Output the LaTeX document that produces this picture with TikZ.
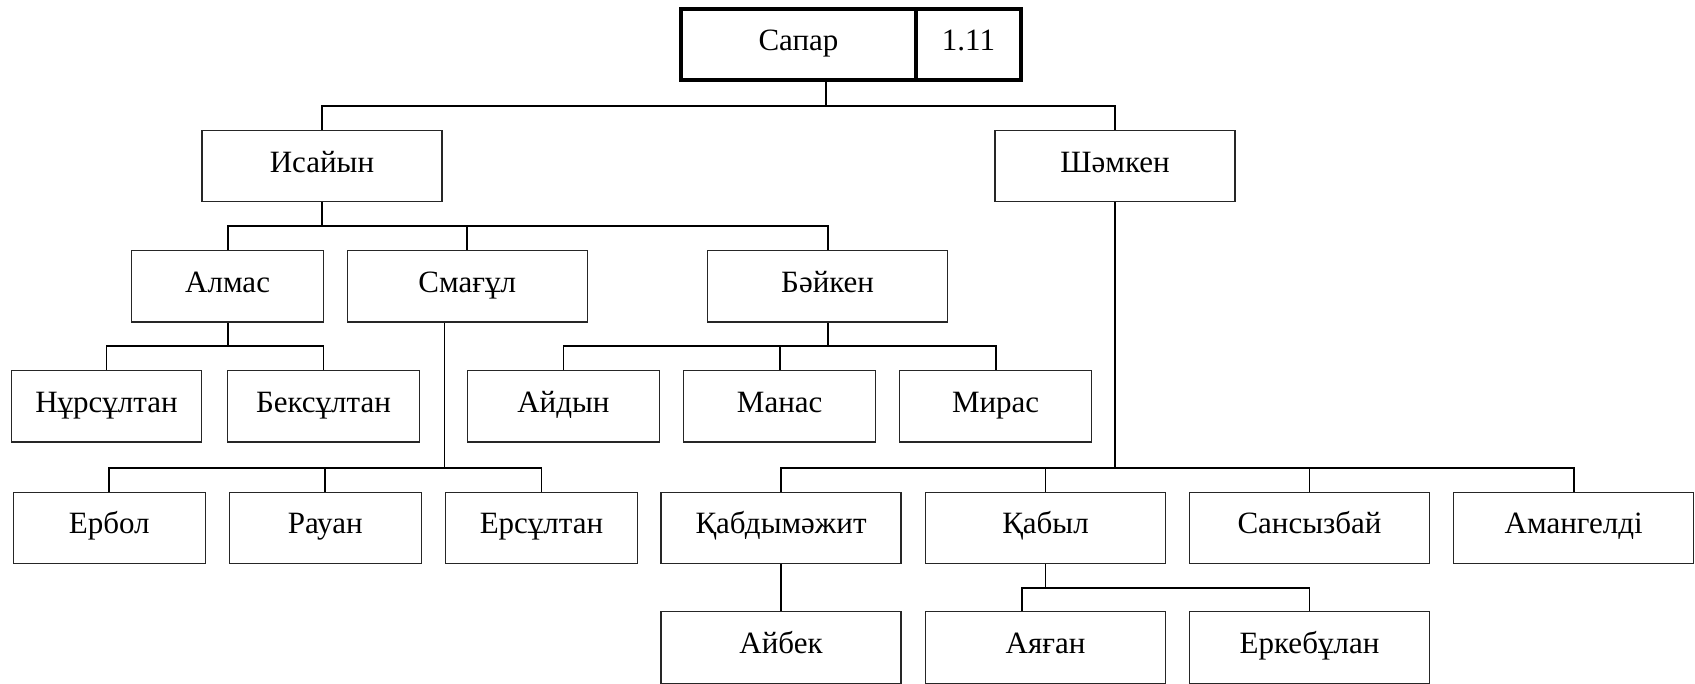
\documentclass[tikz,border=0pt]{standalone}
\usepackage{fontspec}
\setmainfont{Liberation Serif}
\begin{document}
\begin{tikzpicture}[x=1pt,y=-1pt,
  box/.style={draw=black!85,line width=1.3pt,rectangle,minimum height=71.5pt,inner sep=0pt,
    text height=22pt,text depth=10pt,font=\fontsize{31}{36}\selectfont},
  wbox/.style={box,minimum width=240pt},
  nbox/.style={box,minimum width=192pt},
  topbox/.style={box,line width=4pt,draw=black,minimum height=71pt},
  conn/.style={line width=1.8pt,black}]
\useasboundingbox (0,0) rectangle (1695,683);
\clip (0,0) rectangle (1695,683);
% root
\node[topbox,minimum width=235pt] (sapar) at (798.5,44.8) {Сапар};
\node[topbox,minimum width=105pt] (num) at (968.5,44.8) {1.11};
% level 1
\node[wbox] (isayin) at (322,166) {Исайын};
\node[wbox] (shamken) at (1115,166) {Шәмкен};
% level 2
\node[nbox] (almas) at (227.6,286.2) {Алмас};
\node[wbox] (smagul) at (467.2,286.2) {Смағұл};
\node[wbox] (baiken) at (827.6,286.2) {Бәйкен};
% level 3
\node[nbox,minimum width=190pt] (nursultan) at (106.5,406.3) {Нұрсұлтан};
\node[nbox] (beksultan) at (323.5,406.3) {Бексұлтан};
\node[nbox] (aidyn) at (563.4,406.3) {Айдын};
\node[nbox] (manas) at (779.7,406.3) {Манас};
\node[nbox] (miras) at (995.6,406.3) {Мирас};
% level 4
\node[nbox] (erbol) at (109.2,527.9) {Ербол};
\node[nbox] (rauan) at (325.2,527.9) {Рауан};
\node[nbox] (ersultan) at (541.5,527.9) {Ерсұлтан};
\node[wbox] (kabdy) at (781,527.9) {Қабдымәжит};
\node[wbox] (kabyl) at (1045.5,527.9) {Қабыл};
\node[wbox] (sansyz) at (1309.5,527.9) {Сансызбай};
\node[wbox] (amangeldi) at (1573.7,527.9) {Амангелді};
% level 5
\node[wbox] (aibek) at (781,647.5) {Айбек};
\node[wbox] (ayagan) at (1045.5,647.5) {Аяған};
\node[wbox] (erkebulan) at (1309.5,647.5) {Еркебұлан};
% buses
\coordinate (b1) at (0,106);
\coordinate (b2) at (0,226.3);
\coordinate (b3) at (0,346);
\coordinate (b4) at (0,467.7);
\coordinate (b5) at (0,588);
\coordinate (sd) at (826,0);
\coordinate (smd) at (444.4,0);
\coordinate (ayd) at (1021.7,0);
% connectors
\draw[conn] (sapar.south -| sd) -- (b1 -| sd);
\draw[conn] (isayin.north) -- (isayin.north |- b1) -- (shamken.north |- b1) -- (shamken.north);
\draw[conn] (isayin.south) -- (isayin.south |- b2);
\draw[conn] (almas.north) -- (almas.north |- b2) -- (baiken.north |- b2) -- (baiken.north);
\draw[conn] (smagul.north) -- (smagul.north |- b2);
\draw[conn] (almas.south) -- (almas.south |- b3);
\draw[conn] (nursultan.north) -- (nursultan.north |- b3) -- (beksultan.north |- b3) -- (beksultan.north);
\draw[conn] (baiken.south) -- (baiken.south |- b3);
\draw[conn] (aidyn.north) -- (aidyn.north |- b3) -- (miras.north |- b3) -- (miras.north);
\draw[conn] (manas.north) -- (manas.north |- b3);
\draw[conn] (smagul.south -| smd) -- (b4 -| smd);
\draw[conn] (erbol.north) -- (erbol.north |- b4) -- (ersultan.north |- b4) -- (ersultan.north);
\draw[conn] (rauan.north) -- (rauan.north |- b4);
\draw[conn] (shamken.south) -- (shamken.south |- b4);
\draw[conn] (kabdy.north) -- (kabdy.north |- b4) -- (amangeldi.north |- b4) -- (amangeldi.north);
\draw[conn] (kabyl.north) -- (kabyl.north |- b4);
\draw[conn] (sansyz.north) -- (sansyz.north |- b4);
\draw[conn] (kabdy.south) -- (aibek.north);
\draw[conn] (kabyl.south) -- (kabyl.south |- b5);
\draw[conn] (ayagan.north -| ayd) -- (b5 -| ayd) -- (erkebulan.north |- b5) -- (erkebulan.north);
\end{tikzpicture}
\end{document}
